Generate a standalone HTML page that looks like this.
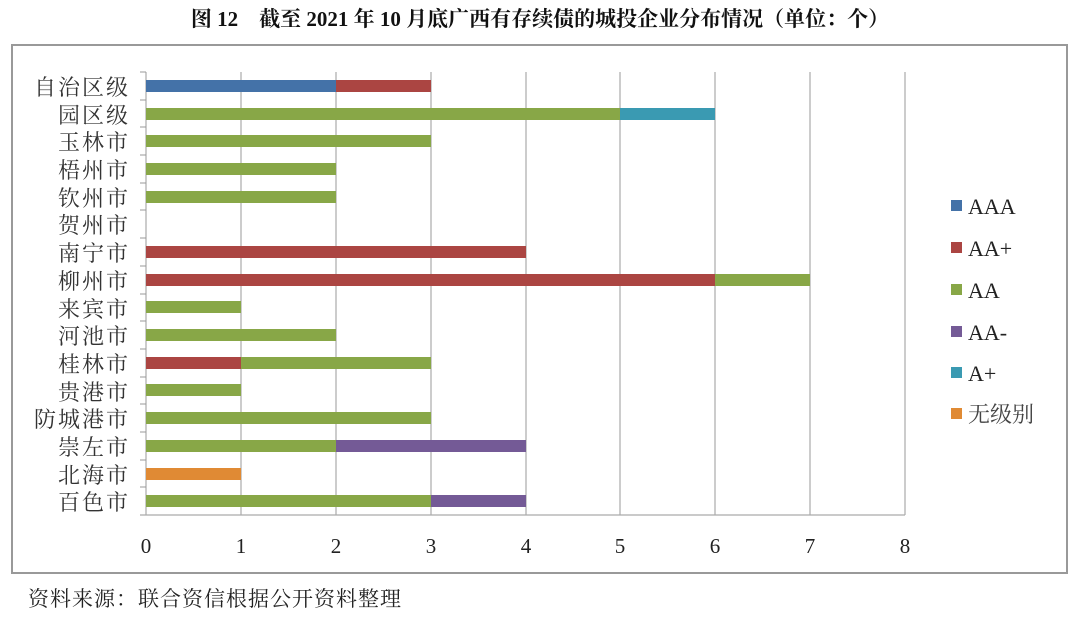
<!DOCTYPE html><html><head><meta charset="utf-8"><style>
body{margin:0;width:1080px;height:614px;background:#fff;overflow:hidden}
svg text{font-family:"Liberation Serif","Noto Serif CJK SC",serif}
</style></head><body>
<svg width="1080" height="614" xmlns="http://www.w3.org/2000/svg">
<text x="540" y="26" text-anchor="middle" font-size="21" font-weight="bold" fill="#111">图 12　截至 2021 年 10 月底广西有存续债的城投企业分布情况（单位：个）</text>
<rect x="12" y="45" width="1055" height="528" fill="#fff" stroke="#999" stroke-width="2"/>
<g stroke="#aaa" stroke-width="1.2">
<line x1="241" y1="72" x2="241" y2="515"/><line x1="336" y1="72" x2="336" y2="515"/><line x1="431" y1="72" x2="431" y2="515"/><line x1="526" y1="72" x2="526" y2="515"/><line x1="620" y1="72" x2="620" y2="515"/><line x1="715" y1="72" x2="715" y2="515"/><line x1="810" y1="72" x2="810" y2="515"/><line x1="905" y1="72" x2="905" y2="515"/>
<line x1="146" y1="72" x2="146" y2="515"/><line x1="140" y1="515" x2="905" y2="515"/>
</g>
<g stroke="#999" stroke-width="1">
<line x1="140" y1="72" x2="146" y2="72"/><line x1="140" y1="100" x2="146" y2="100"/><line x1="140" y1="127" x2="146" y2="127"/><line x1="140" y1="155" x2="146" y2="155"/><line x1="140" y1="183" x2="146" y2="183"/><line x1="140" y1="210" x2="146" y2="210"/><line x1="140" y1="238" x2="146" y2="238"/><line x1="140" y1="266" x2="146" y2="266"/><line x1="140" y1="294" x2="146" y2="294"/><line x1="140" y1="321" x2="146" y2="321"/><line x1="140" y1="349" x2="146" y2="349"/><line x1="140" y1="377" x2="146" y2="377"/><line x1="140" y1="404" x2="146" y2="404"/><line x1="140" y1="432" x2="146" y2="432"/><line x1="140" y1="460" x2="146" y2="460"/><line x1="140" y1="487" x2="146" y2="487"/>
</g>
<g>
<rect x="146" y="80" width="190" height="12" fill="#4472a8"/><rect x="336" y="80" width="95" height="12" fill="#ab4542"/>
<rect x="146" y="108" width="474" height="12" fill="#88a747"/><rect x="620" y="108" width="95" height="12" fill="#3a9ab2"/>
<rect x="146" y="135" width="285" height="12" fill="#88a747"/>
<rect x="146" y="163" width="190" height="12" fill="#88a747"/>
<rect x="146" y="191" width="190" height="12" fill="#88a747"/>
<rect x="146" y="246" width="380" height="12" fill="#ab4542"/>
<rect x="146" y="274" width="569" height="12" fill="#ab4542"/><rect x="715" y="274" width="95" height="12" fill="#88a747"/>
<rect x="146" y="301" width="95" height="12" fill="#88a747"/>
<rect x="146" y="329" width="190" height="12" fill="#88a747"/>
<rect x="146" y="357" width="95" height="12" fill="#ab4542"/><rect x="241" y="357" width="190" height="12" fill="#88a747"/>
<rect x="146" y="384" width="95" height="12" fill="#88a747"/>
<rect x="146" y="412" width="285" height="12" fill="#88a747"/>
<rect x="146" y="440" width="190" height="12" fill="#88a747"/><rect x="336" y="440" width="190" height="12" fill="#745a96"/>
<rect x="146" y="468" width="95" height="12" fill="#e08a34"/>
<rect x="146" y="495" width="285" height="12" fill="#88a747"/><rect x="431" y="495" width="95" height="12" fill="#745a96"/>
</g>
<g font-size="22" fill="#333" text-anchor="end" letter-spacing="2">
<text x="130" y="95">自治区级</text><text x="130" y="123">园区级</text><text x="130" y="150">玉林市</text><text x="130" y="178">梧州市</text><text x="130" y="206">钦州市</text><text x="130" y="233">贺州市</text><text x="130" y="261">南宁市</text><text x="130" y="289">柳州市</text><text x="130" y="317">来宾市</text><text x="130" y="344">河池市</text><text x="130" y="372">桂林市</text><text x="130" y="400">贵港市</text><text x="130" y="427">防城港市</text><text x="130" y="455">崇左市</text><text x="130" y="483">北海市</text><text x="130" y="510">百色市</text>
</g>
<g font-size="21" fill="#222" text-anchor="middle">
<text x="146" y="553">0</text><text x="241" y="553">1</text><text x="336" y="553">2</text><text x="431" y="553">3</text><text x="526" y="553">4</text><text x="620" y="553">5</text><text x="715" y="553">6</text><text x="810" y="553">7</text><text x="905" y="553">8</text>
</g>
<g font-size="22" fill="#222">
<rect x="951" y="200" width="11" height="11" fill="#4472a8"/><text x="968" y="214">AAA</text>
<rect x="951" y="242" width="11" height="11" fill="#ab4542"/><text x="968" y="256">AA+</text>
<rect x="951" y="284" width="11" height="11" fill="#88a747"/><text x="968" y="298">AA</text>
<rect x="951" y="326" width="11" height="11" fill="#745a96"/><text x="968" y="340">AA-</text>
<rect x="951" y="367" width="11" height="11" fill="#3a9ab2"/><text x="968" y="381">A+</text>
<rect x="951" y="408" width="11" height="11" fill="#e08a34"/><text x="968" y="422" fill="#444">无级别</text>
</g>
<text x="28" y="606" font-size="21" fill="#222" letter-spacing="1">资料来源：联合资信根据公开资料整理</text>
</svg></body></html>
